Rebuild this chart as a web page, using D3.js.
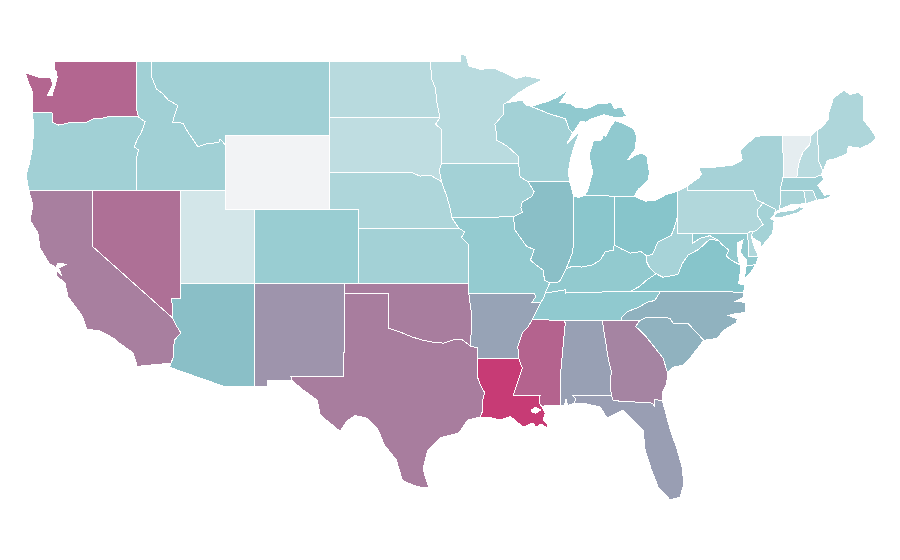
<!DOCTYPE html>
<html>
<head>
<meta charset="utf-8">
<style>
  body { margin: 0; background: #fff; }
</style>
<script src="https://cdn.jsdelivr.net/npm/d3@7"></script>
</head>
<body>
<div id="map"></div>
<script>
const states = ["WA","OR","ID","MT","WY","CA","NV","UT","AZ","CO","NM","TX","OK","KS","NE","SD","ND","MN","IA","MO","AR","LA","MS","AL","GA","FL","SC","NC","TN","KY","VA","WV","OH","IN","IL","MI","WI","NY","PA","NJ","DE","MD","CT","RI","MA","NH","VT","ME"];
const values = [84.4,37.9,37.9,37.9,0,75.4,80.8,14.5,52.2,41.6,67.8,76.1,76.1,36.9,31.8,23.8,27.1,26.6,36.9,43.9,62.3,100,85.5,63.4,73.6,64.1,56.9,56.9,45.8,44.9,50,35,50,48.6,52.2,45.8,36.9,35.5,30.4,36.4,30.9,44.9,34,29.9,38.8,26.6,6,31.8];
const colorStops = [0, 50, 100];
const colorRange = ["#f2f3f5", "#87c5cb", "#c73b75"];

// shared borders, lon/lat
const columbia = [[-118.97,46],[-119.3,45.93],[-119.98,45.88],[-120.4,45.7],[-120.86,45.66],[-121.4,45.7],[-121.87,45.62],[-122.3,45.55],[-122.68,45.68],[-122.75,46.2],[-123.45,46.25],[-124.05,46.2]];
const snake = [[-117.03,43.83],[-116.9,44.2],[-117.2,44.37],[-116.95,44.85],[-116.75,45.1],[-116.6,45.4],[-116.47,45.73],[-116.92,45.99]];
const idMt = [[-116,48.1],[-115.7,47.5],[-115.3,47.25],[-114.9,46.9],[-114.26,46.6],[-114.45,46.15],[-114.6,45.7],[-113.9,45.65],[-113.6,45.2],[-113.3,44.85],[-112.9,44.37],[-112.3,44.55],[-111.5,44.6],[-111.4,44.8],[-111.05,44.48]];
const nvAz = [[-114.05,37],[-114.05,36.2],[-114.66,36.2],[-114.6,35.15]];
const caAz = [[-114.6,35.15],[-114.4,34.8],[-114.05,34.35],[-114.5,33.95],[-114.55,33.05],[-114.72,32.72]];
const neTop = [[-104.05,43],[-98.5,43],[-97.9,42.8],[-97.2,42.85],[-96.45,42.5]];
const moRiver = [[-96.45,42.5],[-96.1,41.7],[-95.85,41],[-95.77,40.58]];
const ksMo = [[-95.77,40.58],[-95.3,40],[-94.9,39.8],[-95.1,39.5],[-94.62,39.1],[-94.62,37]];
const sdNd = [[-96.56,45.94],[-96.8,46.9],[-96.85,47.5],[-97.1,48],[-97.23,49]];
const sdMn = [[-96.45,43.5],[-96.45,45.3],[-96.85,45.6],[-96.56,45.94]];
const mnWi = [[-92.05,46.75],[-92.3,46.65],[-92.3,46.1],[-92.85,45.6],[-92.75,45.1],[-92.75,44.75],[-92,44.4],[-91.25,43.85],[-91.25,43.5]];
const iaWi = [[-91.25,43.5],[-91.15,42.75],[-90.6,42.5]];
const iaIl = [[-90.6,42.5],[-90.2,41.95],[-90.35,41.7],[-91,41.4],[-91.1,41.1],[-91,40.85],[-91.6,40.6]];
const moIl = [[-91.6,40.6],[-91.5,39.9],[-91.1,39.45],[-90.7,39],[-90.2,38.85],[-90.45,38.27],[-90.05,38],[-89.6,37.74],[-89.5,37.2],[-89.15,37.05]];
const okAr = [[-94.62,36.5],[-94.43,35.4],[-94.48,33.64]];
const red = [[-94.48,33.64],[-95.05,33.97],[-95.66,33.97],[-96.34,33.8],[-97.08,33.86],[-97.76,33.97],[-98.44,34.13],[-99.25,34.4],[-100,34.6]];
const txLa = [[-94.04,33],[-94.04,32],[-93.8,31.5],[-93.55,31.15],[-93.7,30.6],[-93.7,30.1],[-93.85,29.82]];
const arMs = [[-90.3,35.1],[-90.6,34.7],[-91,34.35],[-91.3,33.6],[-91.25,33]];
const laMs = [[-91.25,33],[-91,32.45],[-91.15,32.1],[-91.35,31.6],[-91.6,31],[-89.8,31],[-89.87,30.6],[-89.7,30.4]];
const bootE = [[-89.45,36.5],[-89.55,36.25],[-89.75,36]];
const boot = [[-89.75,36],[-90.35,36],[-90.1,36.3],[-90.2,36.5]];
const arTn = [[-89.75,36],[-90.05,35.5],[-90.3,35.1]];
const msAl = [[-88.2,35],[-88.1,34.9],[-88.45,31.9],[-88.4,30.45]];
const alGa = [[-85.6,35],[-85.18,32.87],[-85,32.3],[-85.05,31.55],[-85,31]];
const gaFl = [[-85,31],[-84.85,30.7],[-82.2,30.57],[-82.05,30.36],[-82.05,30.75],[-81.55,30.72]];
const savannah = [[-83.1,35],[-83.35,34.7],[-82.75,34.25],[-82,33.5],[-81.5,33],[-81.2,32.2]];
const ncSc = [[-83.1,35],[-82.6,35.2],[-81.05,35.15],[-80.8,34.85],[-79.8,34.85],[-78.75,33.95]];
const ncTn = [[-84.32,35],[-84.3,35.2],[-83.9,35.5],[-83.1,35.75],[-82.6,36],[-82.05,36.1],[-81.68,36.59]];
const kyTn = [[-83.68,36.6],[-88.07,36.5],[-88.07,36.68],[-89.45,36.5]];
const kyVa = [[-83.68,36.6],[-83.1,36.85],[-82.6,37.2],[-81.97,37.54]];
const kyWv = [[-81.97,37.54],[-82.4,37.85],[-82.6,38.17],[-82.6,38.5]];
const ohioOhKy = [[-82.6,38.5],[-83,38.73],[-83.7,38.65],[-84.25,38.85],[-84.8,39.1]];
const ohioInKy = [[-84.8,39.1],[-84.85,38.8],[-85.4,38.73],[-85.75,38.27],[-86.3,38],[-87,37.9],[-87.6,37.95],[-88.05,37.8]];
const ohioIlKy = [[-88.05,37.8],[-88.5,37.1],[-89.15,37.05]];
const ilIn = [[-87.53,41.72],[-87.53,39.35],[-87.6,38.7],[-88.05,37.8]];
const ohWv = [[-80.52,40.64],[-80.75,40],[-80.95,39.6],[-81.85,39.25],[-82.2,38.6],[-82.6,38.5]];
const vaWv = [[-77.75,39.32],[-78.35,39.4],[-79.1,38.85],[-79.8,38.55],[-80.2,38.1],[-80.5,37.5],[-81.5,37.35],[-81.97,37.54]];
const mdWv = [[-79.48,39.72],[-79.48,39.2],[-79,39.45],[-78.5,39.55],[-78.35,39.6],[-77.75,39.32]];
const mdVa = [[-77.75,39.32],[-77.5,39.1],[-77.05,38.8],[-77.25,38.5],[-76.95,38.3]];
const paNy = [[-79.85,42.27],[-79.85,42],[-75.4,42.03],[-75.15,41.5],[-74.75,41.36]];
const paNj = [[-74.75,41.36],[-75.1,41],[-75.15,40.7],[-74.75,40.2],[-75.15,39.9],[-75.42,39.8]];
const vtNh = [[-71.5,45],[-71.6,44.5],[-72.05,44.1],[-72.3,43.6],[-72.45,43],[-72.46,42.73]];
const nhMe = [[-71.08,45.3],[-71,43.6],[-70.7,43.08]];
const upWi = [[-90.4,46.55],[-89.1,46.13],[-88.1,45.9],[-87.85,45.35],[-87.6,45.1]];

const rev = (a) => a.slice().reverse();

const rings = {
  WA: [[[-122.6,49],[-117.03,49],[-117.04,46.42],[-116.92,45.99],...columbia,[-124.05,46.7],[-124.1,47.4],[-124.35,47.87],[-124.57,48.38],[-123.6,48.12],[-122.85,48.1],[-122.7,47.75],[-122.95,47.3],[-123.05,47.15],[-122.75,47.12],[-122.65,47.4],[-122.5,47.8],[-122.4,48.12],[-122.45,48.4],[-122.6,48.6]]],
  OR: [[...rev(columbia),[-116.92,45.99],...rev(snake),[-117.03,42],[-124.3,42],[-124.5,42.85],[-124.3,43.4],[-124.05,44.37],[-124,45.4]]],
  ID: [[[-117.03,49],[-116,49],...idMt,[-111.05,42],[-117.03,42],...snake,[-117.04,46.42]]],
  MT: [[[-116,49],[-104.05,49],[-104.05,45],[-111.05,45],...rev(idMt)]],
  WY: [[[-111.05,45],[-104.05,45],[-104.05,41],[-111.05,41]]],
  CA: [[[-124.3,42],[-120,42],[-120,39],...caAz,[-117,32.55],[-117.27,33.27],[-118.3,33.86],[-118.5,34.03],[-119.5,34.45],[-120.39,34.55],[-120.73,35.3],[-121.67,36.3],[-121.87,37.04],[-122.4,37.4],[-122.5,37.75],[-122.1,37.45],[-122.3,37.85],[-121.8,38.05],[-122.35,38.12],[-122.5,37.88],[-122.95,38.1],[-123.56,38.92],[-123.7,39.73],[-124.24,40.43],[-124.03,41.2]]],
  NV: [[[-120,42],[-114.05,42],...nvAz,[-120,39]]],
  UT: [[[-114.05,42],[-111.05,42],[-111.05,41],[-109.05,41],[-109.05,37],[-114.05,37]]],
  AZ: [[[-114.05,37],[-109.05,37],[-109.05,31.45],[-111.07,31.45],[-114.81,32.5],...rev(caAz),...rev(nvAz).slice(1)]],
  CO: [[[-109.05,41],[-102.05,41],[-102.05,37],[-109.05,37]]],
  NM: [[[-109.05,37],[-103,37],[-103.05,32],[-106.62,32],[-106.53,31.8],[-108.2,31.8],[-108.2,31.45],[-109.05,31.45]]],
  TX: [[[-103,36.5],[-100,36.5],...rev(red),[-94.04,33.55],...txLa,[-94.7,29.65],[-95.3,28.95],[-96.55,28.7],[-97.4,28],[-97.7,27],[-97.3,26],[-97.6,26],[-98.2,26.1],[-99.1,26.4],[-99.5,27.5],[-100.3,28.3],[-100.75,29.15],[-101.45,29.75],[-102.3,29.9],[-102.85,29.6],[-103.3,29.05],[-104.65,29.93],[-104.85,30.73],[-106,31.4],[-106.53,31.8],[-106.62,32],[-103.05,32]]],
  OK: [[[-103,37],[-94.62,37],...okAr,...red,[-100,36.5],[-103,36.5]]],
  KS: [[[-102.05,40],[-95.3,40],...ksMo.slice(2),[-102.05,37]]],
  NE: [[...neTop,...moRiver.slice(1),[-95.3,40],[-102.05,40],[-102.05,41],[-104.05,41]]],
  SD: [[[-104.05,45.94],...rev(sdMn),[-96.6,43.1],...rev(neTop)]],
  ND: [[[-104.05,49],...rev(sdNd),[-104.05,45.94]]],
  MN: [[[-97.23,49],[-95.15,49],[-95.15,49.38],[-94.8,49.3],[-94.6,48.72],[-93.8,48.55],[-92.95,48.62],[-92,48.3],[-91.4,48.05],[-90.8,48.2],[-89.6,48],[-90.5,47.65],[-91.3,47.25],...mnWi,...sdMn,...sdNd]],
  IA: [[[-96.45,43.5],...iaWi,...iaIl,[-95.77,40.58],...rev(moRiver),[-96.6,43.1]]],
  MO: [[...moIl,[-89.45,36.5],...bootE,...boot,[-94.62,36.5],...rev(ksMo)]],
  AR: [[[-94.62,36.5],...rev(boot),...arTn,...arMs,[-94.04,33],[-94.04,33.55],[-94.48,33.64],[-94.43,35.4]]],
  LA: [[...laMs,[-89.45,30.03],[-89.6,29.66],[-89.3,29.45],[-89.26,29.2],[-89.75,29.45],[-90.1,29.25],[-90.27,29.5],[-90.95,29.28],[-91.35,29.55],[-91.82,29.85],[-92.5,29.66],[-93.2,29.8],...rev(txLa)],
       [[-90.4,30.2],[-90.1,30.35],[-89.75,30.2],[-90.1,30.02],[-90.35,30.08]]],
  MS: [[[-90.3,35.1],[-88.2,35],...msAl,[-89,30.45],...rev(laMs),...rev(arMs).slice(1)]],
  AL: [[...msAl,[-88.15,30.45],[-88.05,30.8],[-87.95,30.45],[-87.5,30.55],[-87.4,30.8],[-87.6,31],...rev(alGa)]],
  GA: [[...alGa,...gaFl,[-81.56,31.11],[-81.25,31.6],...rev(savannah)]],
  FL: [[[-87.6,31],...gaFl,[-81.3,30],[-81.02,29.12],[-80.6,28.2],[-80.21,27.13],[-80.1,26.2],[-80.35,25.51],[-81.02,25.35],[-81.83,26.05],[-82.3,27],[-82.71,28.04],[-82.85,29.12],[-83.52,29.66],[-84.2,30.2],[-85.28,29.77],[-85.75,30.36],[-86.9,30.57],[-87.5,30.55],[-87.4,30.8]]],
  SC: [[...ncSc,[-79.68,33],[-80.2,32.6],[-80.83,32.5],...rev(savannah)]],
  NC: [[[-84.32,35],...ncSc,[-77.9,34.05],[-77.3,34.55],[-76.55,34.9],[-76.5,35.1],[-77.1,35.3],[-76.5,35.4],[-75.95,35.45],[-75.95,36],[-76.6,36.05],[-76.1,36.25],[-76.05,36.55],...rev(ncTn)]],
  TN: [[[-90.3,35.1],[-88.2,35],[-84.32,35],...ncTn,...kyTn,...bootE.slice(1),...arTn.slice(1)]],
  KY: [[...kyVa,...kyWv,...ohioOhKy,...ohioInKy,...ohioIlKy,[-89.45,36.5],...rev(kyTn)]],
  VA: [[[-83.68,36.6],[-81.68,36.59],[-76.05,36.55],[-76,36.95],[-76.4,37],[-76.3,37.55],[-76.3,38],...rev(mdVa),...vaWv,...rev(kyVa)],
       [[-75.25,38.03],[-75.9,37.95],[-76,37.3],[-75.6,37.6]]],
  WV: [[...ohWv,...rev(kyWv),...rev(vaWv),...rev(mdWv),[-80.52,39.72]]],
  OH: [[[-84.8,41.72],[-83.45,41.72],[-82.7,41.45],[-82,41.5],[-81.3,41.8],[-80.52,41.98],...ohWv,...ohioOhKy]],
  IN: [[...ilIn,...rev(ohioInKy),[-84.8,41.72],[-86.8,41.76],[-87.2,41.65]]],
  IL: [[[-90.6,42.5],[-87.8,42.5],...ilIn,...ohioIlKy,...rev(moIl),...rev(iaIl)]],
  MI: [[[-86.8,41.76],[-84.8,41.72],[-83.45,41.72],[-83.15,42.1],[-82.5,42.6],[-82.42,43],[-82.6,43.9],[-83,44.05],[-83.4,43.9],[-83.9,43.65],[-83.35,44.3],[-83.3,45],[-83.5,45.35],[-84.2,45.65],[-84.75,45.78],[-85.1,45.4],[-85.35,44.95],[-85.55,45],[-85.65,44.75],[-86.2,44.7],[-86.5,43.9],[-86.25,43],[-86.6,42]],
       [[-90.4,46.55],[-89.2,46.85],[-88.6,47.06],[-87.9,47.45],[-88.25,47],[-88.45,46.78],[-87.75,46.7],[-87.4,46.5],[-86.6,46.45],[-85.9,46.7],[-85,46.75],[-84.8,46.45],[-84.3,46.5],[-84.1,46.2],[-83.9,46],[-84.7,45.95],[-85.5,46.1],[-86.3,45.9],[-86.7,45.7],[-87.05,45.75],...rev(upWi)],
       [[-89.2,47.87],[-88.7,48.05],[-88.95,47.9]]],
  WI: [[[-92.05,46.75],[-91,46.9],[-90.8,46.65],...upWi,[-88,44.55],[-87.1,45.25],[-87.5,44.4],[-87.75,43.7],[-87.9,43],[-87.8,42.5],[-90.6,42.5],...rev(iaWi),...rev(mnWi)]],
  NY: [[[-79.85,42.27],[-79.1,42.7],[-78.9,42.9],[-79.1,43.23],[-77.7,43.3],[-76.75,43.4],[-76.15,43.67],[-76.3,44.2],[-75.3,44.9],[-74.7,45],[-73.45,45],[-73.4,44],[-73.4,43.6],[-73.4,42.75],[-73.6,42.05],[-73.6,41.3],[-73.65,41],[-74,40.75],[-73.9,41],...rev(paNy).slice(0,4)],
       [[-74.05,40.6],[-73.75,40.85],[-72.6,40.98],[-72.3,41.15],[-71.9,41.05],[-72.5,40.8],[-73.5,40.58]]],
  PA: [[[-80.52,41.98],[-79.85,42.27],...paNy.slice(1),...paNj,[-75.79,39.72],[-80.52,39.72],[-80.52,40.64]]],
  NJ: [[[-74.75,41.36],[-73.9,41],[-74,40.7],[-74.25,40.5],[-74,40.4],[-74.1,39.75],[-74.4,39.4],[-74.95,38.93],[-74.9,39.2],[-75.4,39.45],[-75.55,39.6],...rev(paNj)]],
  DE: [[[-75.79,39.72],[-75.6,39.83],[-75.42,39.8],[-75.55,39.6],[-75.4,39.1],[-75.05,38.45],[-75.7,38.45]]],
  MD: [[[-79.48,39.72],[-75.79,39.72],[-75.7,38.45],[-75.05,38.45],[-75.25,38.03],[-75.9,37.95],[-75.9,38.3],[-76.3,38.7],[-76.1,39.35],[-76.5,39.2],[-76.45,38.5],[-76.35,38.05],...rev(mdVa),...rev(mdWv)]],
  CT: [[[-73.6,42.05],[-72,42.02],[-71.85,41.32],[-72.9,41.25],[-73.65,41],[-73.6,41.3]]],
  RI: [[[-72,42.02],[-71.38,42.02],[-71.12,41.5],[-71.85,41.32]]],
  MA: [[[-73.6,42.05],[-73.4,42.75],[-72.46,42.73],[-71.25,42.73],[-70.82,42.87],[-70.65,42.6],[-71.05,42.3],[-70.75,41.95],[-70.6,41.75],[-70.2,41.85],[-70.2,41.7],[-70.65,41.55],[-71.12,41.5],[-71.38,42.02],[-72,42.02]]],
  NH: [[...vtNh,[-71.25,42.73],[-70.82,42.87],...rev(nhMe)]],
  VT: [[[-73.45,45],...vtNh,[-73.4,42.75],[-73.4,43.6],[-73.4,44]]],
  ME: [[...nhMe,[-70.4,43.65],[-69.8,43.75],[-69.1,44],[-69,44.4],[-68.2,44.3],[-67.6,44.5],[-67.1,44.85],[-67.45,45.3],[-67.95,45.8],[-67.95,47.07],[-68.3,47.3],[-68.9,47.2],[-69.3,47.43],[-70,47],[-70.3,46.25],[-70.3,45.9],[-70.8,45.4]]]
};

const width = 900, height = 560;

const x = d3.scaleLinear().domain([-111.05, -104.05]).range([225.3, 329]);
const y = d3.scaleLinear().domain([49, 41]).range([61, 209.5]);

const color = d3.scaleLinear().domain(colorStops).range(colorRange);

const line = d3.line().x((d) => x(d[0])).y((d) => y(d[1]));

const svg = d3
  .select("#map")
  .append("svg")
  .attr("width", width)
  .attr("height", height);

svg
  .append("g")
  .selectAll("path")
  .data(states)
  .join("path")
  .attr("d", (s) => rings[s].map((r) => line(r) + "Z").join(""))
  .attr("fill", (s, i) => color(values[i]))
  .attr("fill-rule", "evenodd")
  .attr("stroke", "#fff")
  .attr("stroke-width", 1)
  .attr("shape-rendering", "crispEdges");
</script>
</body>
</html>
